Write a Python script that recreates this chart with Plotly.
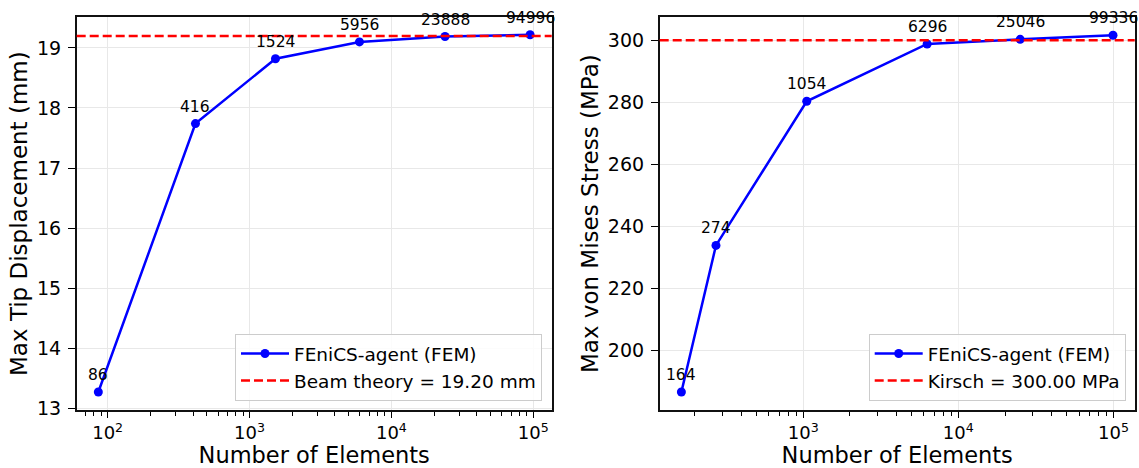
import numpy as np
import plotly.graph_objects as go

# ---- data ----
elems_disp = [86, 416, 1524, 5956, 23888, 94996]
tip_disp = [13.27, 17.74, 18.82, 19.10, 19.19, 19.22]
beam_theory = 19.20

elems_stress = [164, 274, 1054, 6296, 25046, 99336]
vm_stress = [186.5, 233.8, 280.3, 298.8, 300.3, 301.6]
kirsch = 300.00

x_tickvals = [1e2, 1e3, 1e4, 1e5]
x_ticktext = ["10<sup>2</sup>", "10<sup>3</sup>", "10<sup>4</sup>", "10<sup>5</sup>"]
y1_ticks = [13, 14, 15, 16, 17, 18, 19]
y2_ticks = [200, 220, 240, 260, 280, 300]

FONT = "DejaVu Sans"
BLUE = "#0000ff"
RED = "#ff0000"
W, H = 1139, 468
XTICK_FS = 18
YTICK_FS = 19
TITLE_FS = 22.5
ANN_FS = 15.5
LEG_FS = 18.5

fig = go.Figure()

fig.add_trace(go.Scatter(
    x=elems_disp, y=tip_disp, mode="lines+markers", name="FEniCS-agent (FEM)",
    line=dict(color=BLUE, width=2.5), marker=dict(color=BLUE, size=9),
    xaxis="x", yaxis="y", legend="legend"))
fig.add_trace(go.Scatter(
    x=elems_stress, y=vm_stress, mode="lines+markers", name="FEniCS-agent (FEM)",
    line=dict(color=BLUE, width=2.5), marker=dict(color=BLUE, size=9),
    xaxis="x2", yaxis="y2", legend="legend2"))

# reference lines as legend-enabled shapes
fig.add_shape(type="line", xref="x domain", yref="y", x0=0, x1=1, y0=beam_theory, y1=beam_theory,
              line=dict(color=RED, width=2.5, dash="9px,4px"), showlegend=True,
              name=f"Beam theory = {beam_theory:.2f} mm", legend="legend")
fig.add_shape(type="line", xref="x2 domain", yref="y2", x0=0, x1=1, y0=kirsch, y1=kirsch,
              line=dict(color=RED, width=2.5, dash="9px,4px"), showlegend=True,
              name=f"Kirsch = {kirsch:.2f} MPa", legend="legend2")

annotations = []
for xv, yv in zip(elems_disp, tip_disp):
    annotations.append(dict(x=np.log10(xv), y=yv, xref="x", yref="y", text=str(xv),
                            showarrow=False, yanchor="middle", yshift=17,
                            font=dict(family=FONT, size=ANN_FS, color="black")))
for xv, yv in zip(elems_stress, vm_stress):
    annotations.append(dict(x=np.log10(xv), y=yv, xref="x2", yref="y2", text=str(xv),
                            showarrow=False, yanchor="middle", yshift=17,
                            font=dict(family=FONT, size=ANN_FS, color="black")))

minor_vals = [m * 10 ** e for e in range(1, 6) for m in range(2, 10)]


def xaxis(domain, rng, anchor):
    return dict(
        type="log", domain=domain, range=rng, anchor=anchor,
        tickvals=x_tickvals, ticktext=x_ticktext,
        ticks="outside", ticklen=6, tickwidth=1.3, tickcolor="black",
        tickfont=dict(family=FONT, size=XTICK_FS, color="black"),
        showline=True, linecolor="#111111", linewidth=1.6, mirror=True,
        showgrid=True, gridcolor="#e8e8e8", gridwidth=1, zeroline=False,
        minor=dict(tickvals=minor_vals, ticks="outside", ticklen=4, tickwidth=1,
                   tickcolor="black", showgrid=False),
        title=dict(text="Number of Elements", font=dict(family=FONT, size=TITLE_FS, color="black"),
                   standoff=4),
        automargin=False)


def yaxis(domain, rng, anchor, ticks, title):
    return dict(
        domain=domain, range=rng, anchor=anchor, tickvals=ticks,
        ticks="outside", ticklen=7, tickwidth=1.3, tickcolor="black",
        tickfont=dict(family=FONT, size=YTICK_FS, color="black"), ticklabelstandoff=3,
        showline=True, linecolor="#111111", linewidth=1.6, mirror=True,
        showgrid=True, gridcolor="#e8e8e8", gridwidth=1, zeroline=False,
        title=dict(text=title, font=dict(family=FONT, size=23, color="black"), standoff=3),
        automargin=False)


ydom = [1 - 410 / H, 1 - 17.3 / H]
fig.update_layout(
    width=W, height=H, margin=dict(l=0, r=0, t=0, b=0),
    paper_bgcolor="white", plot_bgcolor="white",
    font=dict(family=FONT, color="black"),
    xaxis=xaxis([76.7 / W, 551.7 / W], [1.782, 5.130], "y"),
    yaxis=yaxis(ydom, [12.97, 19.51], "x", y1_ticks, "Max Tip Displacement (mm)"),
    xaxis2=xaxis([659.7 / W, 1134.7 / W], [2.075, 5.137], "y2"),
    yaxis2=yaxis(ydom, [180.7, 307.4], "x2", y2_ticks, "Max von Mises Stress (MPa)"),
    annotations=annotations,
    legend=dict(x=542 / W, y=1 - 401 / H, xanchor="right", yanchor="bottom",
                bgcolor="rgba(255,255,255,0.85)", bordercolor="#cccccc", borderwidth=1,
                itemwidth=48, font=dict(family=FONT, size=LEG_FS, color="black")),
    legend2=dict(x=1125.7 / W, y=1 - 401 / H, xanchor="right", yanchor="bottom",
                 bgcolor="rgba(255,255,255,0.85)", bordercolor="#cccccc", borderwidth=1,
                 itemwidth=48, font=dict(family=FONT, size=LEG_FS, color="black")),
)

fig.write_html("out.html")
